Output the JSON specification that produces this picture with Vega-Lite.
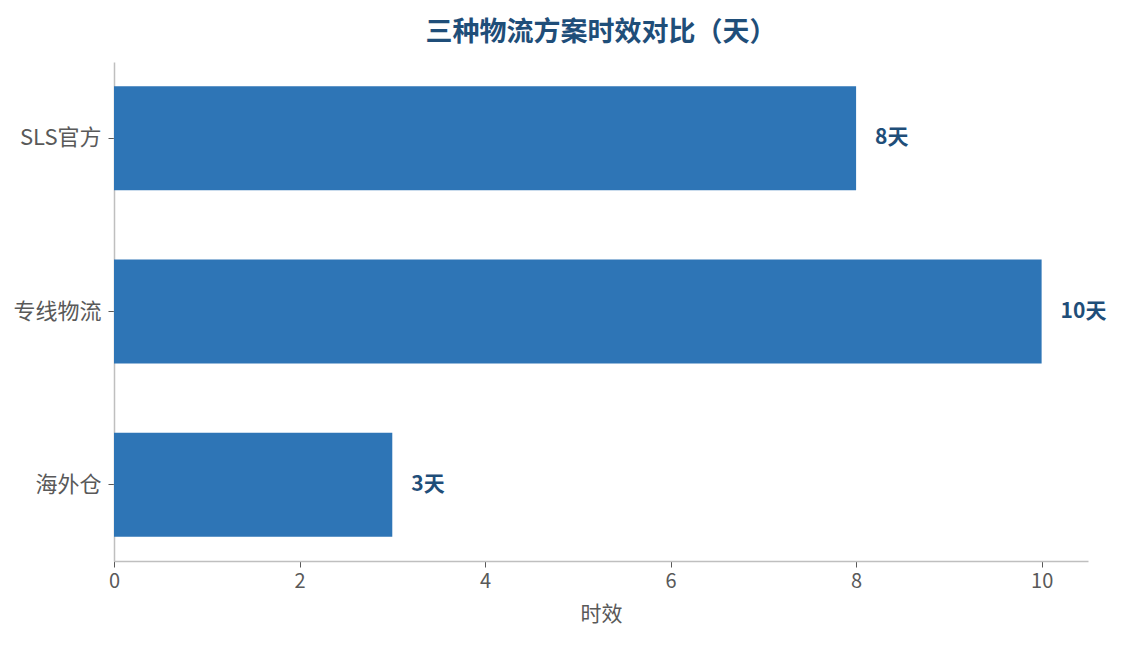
{
  "$schema": "https://vega.github.io/schema/vega-lite/v6.json",
  "autosize": "none",
  "width": 974,
  "height": 499,
  "padding": {"left": 114, "top": 62, "right": 34, "bottom": 84},
  "background": "white",
  "config": {"view": {"stroke": null}, "font": "Noto Sans CJK SC"},
  "title": {"text": "三种物流方案时效对比（天）", "fontSize": 27, "fontWeight": "bold", "color": "#1f4e79", "anchor": "middle", "offset": 15, "font": "Noto Sans CJK SC"},
  "data": {"values": [
    {"方案": "SLS官方", "时效": 8, "label": "8天"},
    {"方案": "专线物流", "时效": 10, "label": "10天"},
    {"方案": "海外仓", "时效": 3, "label": "3天"}
  ]},
  "encoding": {
    "y": {"field": "方案", "type": "nominal", "sort": ["SLS官方", "专线物流", "海外仓"],
      "scale": {"paddingInner": 0.4, "paddingOuter": 0.14},
      "axis": {"title": null, "labelFontSize": 22, "labelColor": "#595959", "labelFont": "Noto Sans CJK SC", "labelPadding": 7, "domainColor": "#bfbfbf", "domainWidth": 1.5, "tickColor": "#595959", "tickSize": 6, "ticks": true, "grid": false}},
    "x": {"field": "时效", "type": "quantitative", "scale": {"domain": [0, 10.5], "nice": false, "zero": true},
      "axis": {"title": "时效", "titleFontSize": 21, "titleFontWeight": "normal", "titleColor": "#595959", "titlePadding": 12, "values": [0, 2, 4, 6, 8, 10], "labelFlush": false, "labelFontSize": 20, "labelColor": "#595959", "labelPadding": 4, "domainColor": "#bfbfbf", "domainWidth": 1.5, "tickColor": "#595959", "tickSize": 6, "grid": false}}
  },
  "layer": [
    {"mark": {"type": "bar", "color": "#2e75b6"}},
    {"mark": {"type": "text", "align": "left", "baseline": "middle", "dx": 19, "fontSize": 21, "fontWeight": "bold", "color": "#1f4e79", "font": "Noto Sans CJK SC"},
     "encoding": {"text": {"field": "label", "type": "nominal"}}}
  ]
}
